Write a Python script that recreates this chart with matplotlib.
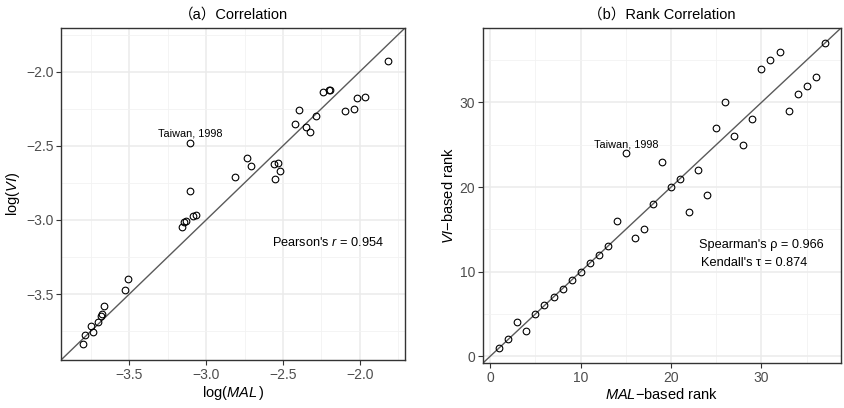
import matplotlib
matplotlib.use("Agg")
import matplotlib.pyplot as plt
import numpy as np

plt.rcParams['font.family'] = ['Liberation Sans', 'Noto Sans CJK SC', 'DejaVu Sans']
plt.rcParams['mathtext.fontset'] = 'custom'
plt.rcParams['mathtext.rm'] = 'Liberation Sans'
plt.rcParams['mathtext.it'] = 'Liberation Sans:italic'
plt.rcParams['axes.unicode_minus'] = True

# ---- data (log values) ----
log_mal = [-3.800, -3.789, -3.750, -3.739, -3.706, -3.685, -3.676, -3.663, -3.528, -3.509,
           -3.155, -3.144, -3.133, -3.106, -3.102, -3.083, -3.063, -2.813, -2.735, -2.705,
           -2.556, -2.552, -2.532, -2.519, -2.421, -2.395, -2.350, -2.326, -2.284, -2.241,
           -2.198, -2.193, -2.095, -2.039, -2.020, -1.965, -1.817]
log_vi = [-3.838, -3.777, -3.718, -3.759, -3.689, -3.646, -3.635, -3.583, -3.473, -3.401,
          -3.051, -3.016, -3.007, -2.806, -2.479, -2.973, -2.966, -2.711, -2.583, -2.635,
          -2.622, -2.727, -2.615, -2.673, -2.353, -2.259, -2.372, -2.410, -2.299, -2.135,
          -2.126, -2.126, -2.264, -2.254, -2.180, -2.169, -1.926]

# ---- rank data ----
mal_rank = list(range(1, 38))
vi_rank = [1, 2, 4, 3, 5, 6, 7, 8, 9, 10, 11, 12, 13, 16, 24, 14, 15, 18, 23, 20,
           21, 17, 22, 19, 27, 30, 26, 25, 28, 34, 35, 36, 29, 31, 32, 33, 37]

taiwan_idx = 14
pearson_text = "Pearson's $\\mathit{r}$ = 0.954"
spearman_text = "Spearman's ρ = 0.966"
kendall_text = "Kendall's τ = 0.874"

W, H = 845, 408
fig = plt.figure(figsize=(W / 100, H / 100), dpi=100)

def px_axes(l, r, t, b):
    return fig.add_axes([l / W, 1 - b / H, (r - l) / W, (b - t) / H])

ax1 = px_axes(61, 405, 28, 360)
ax2 = px_axes(483, 841, 28, 363)

border = '#333333'
tickc = '#4D4D4D'

def style(ax, major, minor):
    ax.set_xticks(major)
    ax.set_yticks(major)
    ax.set_xticks(minor, minor=True)
    ax.set_yticks(minor, minor=True)
    ax.grid(True, which='major', color='#EBEBEB', lw=1.1, zorder=0)
    ax.grid(True, which='minor', color='#F2F2F2', lw=0.6, zorder=0)
    ax.set_axisbelow(True)
    for s in ax.spines.values():
        s.set_color(border)
        s.set_linewidth(1.0)
    ax.tick_params(which='major', length=3.5, width=0.8, color=border,
                   labelsize=10, labelcolor=tickc, pad=2)
    ax.tick_params(which='minor', length=0)

# panel a
lo, hi = -3.945, -1.705
ax1.set_xlim(lo, hi)
ax1.set_ylim(lo, hi)
ax1.plot([lo, hi], [lo, hi], color='#5A5A5A', lw=1.0, zorder=2)
ax1.plot(log_mal, log_vi, 'o', mfc='none', mec='black', ms=4.8, mew=0.8, zorder=3)
style(ax1, [-3.5, -3.0, -2.5, -2.0], [-3.75, -3.25, -2.75, -2.25, -1.75])
ax1.annotate('Taiwan, 1998', (log_mal[taiwan_idx], log_vi[taiwan_idx]),
             xytext=(0, 3), textcoords='offset points', ha='center', va='bottom',
             fontsize=7.8)
ax1.text(-2.207, -3.155, pearson_text, ha='center', va='center', fontsize=9.2)
ax1.set_xlabel('log($\\mathit{MAL}\\,$)', fontsize=10.5, labelpad=2)
ax1.set_ylabel('log($\\mathit{VI}$)', fontsize=10.5, labelpad=3)
ax1.set_title('（a）Correlation', fontsize=10.5, pad=7)

# panel b
lo2, hi2 = -0.8, 38.8
ax2.set_xlim(lo2, hi2)
ax2.set_ylim(lo2, hi2)
ax2.plot([lo2, hi2], [lo2, hi2], color='#5A5A5A', lw=1.0, zorder=2)
ax2.plot(mal_rank, vi_rank, 'o', mfc='none', mec='black', ms=4.8, mew=0.8, zorder=3)
style(ax2, [0, 10, 20, 30], [5, 15, 25, 35])
ax2.annotate('Taiwan, 1998', (mal_rank[taiwan_idx], vi_rank[taiwan_idx]),
             xytext=(0, 3), textcoords='offset points', ha='center', va='bottom',
             fontsize=7.8)
ax2.text(23.1, 13.1, spearman_text, ha='left', va='center', fontsize=9.2)
ax2.text(23.3, 11.0, kendall_text, ha='left', va='center', fontsize=9.2)
ax2.set_xlabel('$\\mathit{MAL}$−based rank', fontsize=10.5, labelpad=2)
ax2.set_ylabel('$\\mathit{VI}$−based rank', fontsize=10.5, labelpad=3)
ax2.set_title('（b）Rank Correlation', fontsize=10.5, pad=7)

fig.savefig('out.png', dpi=100)
